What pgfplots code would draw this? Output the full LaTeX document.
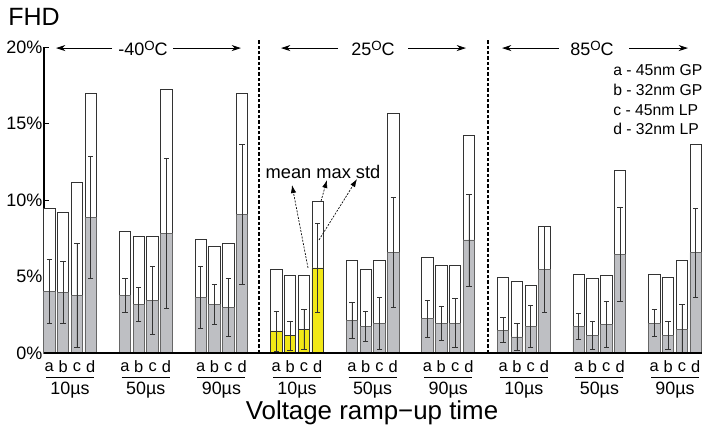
\documentclass[border=0pt]{standalone}
\usepackage{fontspec}
\setmainfont{Liberation Sans}
\usepackage{pgfplots}
\pgfplotsset{compat=1.18}
\usepackage{pgfplotstable}
\usetikzlibrary{arrows.meta}

\definecolor{barfill}{RGB}{190,191,195}
\definecolor{baryellow}{RGB}{242,232,22}
\definecolor{baseline}{RGB}{120,120,120}

% x positions are in pixels of the original figure; y in percent
\pgfplotstableread{
x     max
49.3  9.46
63.1  9.17
76.9  11.16
90.7  16.95
125.0 7.97
138.8 7.65
152.6 7.65
166.4 17.25
200.7 7.45
214.5 6.95
228.3 7.15
242.1 16.97
276.3 5.47
290.1 5.05
303.9 5.05
317.7 9.93
351.9 6.06
365.7 5.47
379.5 6.06
393.3 15.67
427.5 6.25
441.3 5.73
455.1 5.73
468.9 14.25
503.1 4.97
516.9 4.66
530.7 4.44
544.5 8.26
578.7 5.14
592.5 4.86
606.3 5.05
620.1 11.94
654.3 5.14
668.1 4.97
681.9 6.06
695.7 13.66
}\maxtab

\pgfplotstableread{
x     mean std
49.3  4.05 2.10
63.1  3.97 2.00
76.9  3.79 3.40
90.7  8.87 4.00
125.0 3.77 1.10
138.8 3.18 1.10
152.6 3.44 2.20
166.4 7.84 4.90
200.7 3.64 2.00
214.5 3.18 1.30
228.3 2.96 1.90
242.1 9.06 4.60
351.9 2.14 1.20
365.7 1.74 1.00
379.5 1.94 1.70
393.3 6.56 3.60
427.5 2.24 1.20
441.3 1.96 1.10
455.1 1.96 1.60
468.9 7.39 3.00
503.1 1.50 0.80
516.9 1.05 0.90
530.7 1.74 1.40
544.5 5.47 2.80
578.7 1.74 0.83
592.5 1.16 0.90
606.3 1.87 1.50
620.1 6.45 3.10
654.3 1.96 0.90
668.1 1.16 0.93
681.9 1.55 1.60
695.7 6.56 2.90
}\meantab

\pgfplotstableread{
x     mean std
276.3 1.44 1.30
290.1 1.13 0.95
303.9 1.55 1.30
317.7 5.56 2.90
}\yellowtab

\newcommand{\grp}[2]{%
  \node[font=\fontsize{12.3}{13}\selectfont] at (axis cs:{#1-20.7},-0.92) {a};
  \node[font=\fontsize{12.3}{13}\selectfont] at (axis cs:{#1-6.9},-0.92) {b};
  \node[font=\fontsize{12.3}{13}\selectfont] at (axis cs:{#1+6.9},-0.92) {c};
  \node[font=\fontsize{12.3}{13}\selectfont] at (axis cs:{#1+20.7},-0.92) {d};
  \draw[line width=0.6pt] (axis cs:{#1-24},-1.57) -- (axis cs:{#1+24},-1.57);
  \node[font=\fontsize{13.4}{14}\selectfont] at (axis cs:#1,-2.45) {#2};
}
\newcommand{\tempC}[1]{#1\raisebox{0.55ex}{\fontsize{10}{10}\selectfont O}C}

\begin{document}
\begin{tikzpicture}
\useasboundingbox (-33pt,-57pt) rectangle (493.5pt,264.75pt);
\begin{axis}[
    scale only axis,
    width=493.5pt, height=229.5pt,
    xmin=44, xmax=702,
    ymin=0, ymax=20,
    clip=false,
    axis x line=none,
    axis y line*=left,
    y axis line style={line width=0.8pt, -},
    xtick=\empty,
    ytick={0,5,10,15,20},
    yticklabels={0\%,5\%,10\%,15\%,20\%},
    tick align=inside,
    major tick length=4pt,
    ytick style={line width=0.6pt, black},
    yticklabel style={font=\fontsize{13.5}{14}\selectfont, inner sep=1pt},
    /pgf/number format/assume math mode=true,
]
\addplot[ybar, bar width=11.5, bar shift=0pt, fill=white, draw=black!80, line width=0.6pt]
    table[x=x, y=max] {\maxtab};
\addplot[ybar, bar width=11.5, bar shift=0pt, fill=barfill, draw=black!60, line width=0.6pt,
    error bars/.cd, y dir=both, y explicit,
    error bar style={black!80, line width=0.5pt},
    error mark options={rotate=90, black!80, mark size=2pt, line width=0.5pt}]
    table[x=x, y=mean, y error=std] {\meantab};
\addplot[ybar, bar width=11.5, bar shift=0pt, fill=baryellow, draw=black!80, line width=0.6pt,
    error bars/.cd, y dir=both, y explicit,
    error bar style={black!80, line width=0.5pt},
    error mark options={rotate=90, black!80, mark size=2pt, line width=0.5pt}]
    table[x=x, y=mean, y error=std] {\yellowtab};

% baseline
\draw[baseline, line width=1.8pt] (axis cs:44,0) -- (axis cs:702,0);

% temperature separators
\draw[black, line width=0.8pt, dash pattern=on 2.5pt off 1.5pt] (axis cs:259,0) -- (axis cs:259,20.46);
\draw[black, line width=0.8pt, dash pattern=on 2.5pt off 1.5pt] (axis cs:488,0) -- (axis cs:488,20.46);

% temperature headings
\begin{scope}[every node/.style={font=\fontsize{13.5}{14}\selectfont}]
\node at (axis cs:143,19.93) {\tempC{-40}};
\node at (axis cs:373,19.93) {\tempC{25}};
\node at (axis cs:592,19.93) {\tempC{85}};
\end{scope}
\draw[line width=0.6pt, -{Stealth[length=7pt,width=4.5pt]}] (axis cs:112,19.93) -- (axis cs:56,19.93);
\draw[line width=0.6pt, -{Stealth[length=7pt,width=4.5pt]}] (axis cs:173,19.93) -- (axis cs:241,19.93);
\draw[line width=0.6pt, -{Stealth[length=7pt,width=4.5pt]}] (axis cs:338,19.93) -- (axis cs:281,19.93);
\draw[line width=0.6pt, -{Stealth[length=7pt,width=4.5pt]}] (axis cs:408,19.93) -- (axis cs:466,19.93);
\draw[line width=0.6pt, -{Stealth[length=7pt,width=4.5pt]}] (axis cs:559,19.93) -- (axis cs:502,19.93);
\draw[line width=0.6pt, -{Stealth[length=7pt,width=4.5pt]}] (axis cs:629,19.93) -- (axis cs:688,19.93);

% legend of the letters
\begin{scope}[every node/.style={font=\fontsize{11.8}{12}\selectfont, anchor=west, inner sep=0pt}]
\node at (axis cs:613,18.50) {a - 45nm GP};
\node at (axis cs:613,17.19) {b - 32nm GP};
\node at (axis cs:613,15.88) {c - 45nm LP};
\node at (axis cs:613,14.64) {d - 32nm LP};
\end{scope}

% mean / max / std annotation
\node[font=\fontsize{13.7}{14}\selectfont] at (axis cs:323,11.83) {mean max std};
\draw[line width=0.5pt, dash pattern=on 1.5pt off 1pt, -{Latex[length=6pt,width=4pt]}] (axis cs:308,5.56) -- (axis cs:292,10.98);
\draw[line width=0.5pt, dash pattern=on 1.5pt off 1pt, -{Latex[length=6pt,width=4pt]}] (axis cs:321,9.93) -- (axis cs:327,11.31);
\draw[line width=0.5pt, dash pattern=on 1.5pt off 1pt, -{Latex[length=6pt,width=4pt]}] (axis cs:319,7.39) -- (axis cs:357,11.37);

% category labels
\grp{70}{10µs}
\grp{145.7}{50µs}
\grp{221.4}{90µs}
\grp{297}{10µs}
\grp{372.6}{50µs}
\grp{448.2}{90µs}
\grp{523.8}{10µs}
\grp{599.4}{50µs}
\grp{675}{90µs}

% titles
\node[font=\fontsize{18.75}{20}\selectfont, anchor=west, inner sep=0pt] at (axis cs:8,21.96) {FHD};
\node[font=\fontsize{19.4}{20}\selectfont] at (axis cs:372,-3.92) {Voltage ramp−up time};
\end{axis}
\end{tikzpicture}
\end{document}
